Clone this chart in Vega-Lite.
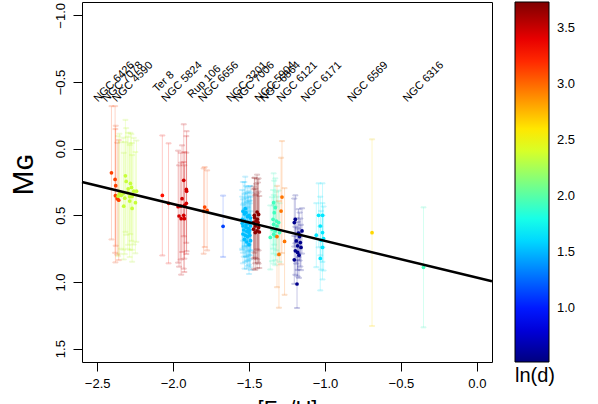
{
  "$schema": "https://vega.github.io/schema/vega-lite/v6.json",
  "width": 410,
  "height": 360,
  "autosize": "none",
  "padding": {"left": 82, "top": 2, "right": 106, "bottom": 42},
  "background": "white",
  "config": {
    "view": {"stroke": "black", "strokeWidth": 1},
    "font": "Liberation Sans",
    "axis": {"labelFont": "Liberation Sans", "titleFont": "Liberation Sans", "labelColor": "black", "titleColor": "black", "tickColor": "black", "grid": false, "domain": false, "titleFontWeight": "normal"},
    "legend": {"gradientLength": 360, "gradientThickness": 34}
  },
  "datasets": {
    "stars": [
      {"f": -2.406, "m": 0.181, "e": 0.50, "l": 3.12},
      {"f": -2.382, "m": 0.231, "e": 0.55, "l": 3.12},
      {"f": -2.378, "m": 0.278, "e": 0.45, "l": 3.12},
      {"f": -2.380, "m": 0.353, "e": 0.50, "l": 3.12},
      {"f": -2.368, "m": 0.375, "e": 0.42, "l": 3.12},
      {"f": -2.358, "m": 0.386, "e": 0.45, "l": 3.12},
      {"f": -2.314, "m": 0.204, "e": 0.42, "l": 2.35},
      {"f": -2.309, "m": 0.246, "e": 0.40, "l": 2.35},
      {"f": -2.281, "m": 0.261, "e": 0.38, "l": 2.35},
      {"f": -2.274, "m": 0.291, "e": 0.40, "l": 2.35},
      {"f": -2.296, "m": 0.301, "e": 0.42, "l": 2.35},
      {"f": -2.353, "m": 0.338, "e": 0.45, "l": 2.35},
      {"f": -2.342, "m": 0.351, "e": 0.40, "l": 2.35},
      {"f": -2.329, "m": 0.338, "e": 0.42, "l": 2.35},
      {"f": -2.259, "m": 0.319, "e": 0.40, "l": 2.35},
      {"f": -2.241, "m": 0.319, "e": 0.38, "l": 2.35},
      {"f": -2.318, "m": 0.371, "e": 0.42, "l": 2.35},
      {"f": -2.286, "m": 0.360, "e": 0.40, "l": 2.35},
      {"f": -2.270, "m": 0.358, "e": 0.40, "l": 2.35},
      {"f": -2.248, "m": 0.405, "e": 0.38, "l": 2.35},
      {"f": -2.286, "m": 0.393, "e": 0.42, "l": 2.35},
      {"f": -2.325, "m": 0.431, "e": 0.40, "l": 2.35},
      {"f": -2.270, "m": 0.448, "e": 0.40, "l": 2.35},
      {"f": -2.299, "m": 0.331, "e": 0.42, "l": 2.35},
      {"f": -2.362, "m": 0.356, "e": 0.45, "l": 2.35},
      {"f": -2.071, "m": 0.351, "e": 0.45, "l": 3.28},
      {"f": -2.030, "m": 0.410, "e": 0.45, "l": 3.28},
      {"f": -1.930, "m": 0.237, "e": 0.42, "l": 3.47},
      {"f": -1.913, "m": 0.306, "e": 0.40, "l": 3.47},
      {"f": -1.911, "m": 0.319, "e": 0.45, "l": 3.47},
      {"f": -1.941, "m": 0.375, "e": 0.40, "l": 3.47},
      {"f": -1.913, "m": 0.410, "e": 0.38, "l": 3.47},
      {"f": -1.926, "m": 0.425, "e": 0.40, "l": 3.47},
      {"f": -1.967, "m": 0.435, "e": 0.42, "l": 3.47},
      {"f": -1.950, "m": 0.431, "e": 0.40, "l": 3.47},
      {"f": -1.961, "m": 0.505, "e": 0.38, "l": 3.47},
      {"f": -1.930, "m": 0.500, "e": 0.40, "l": 3.47},
      {"f": -1.947, "m": 0.525, "e": 0.42, "l": 3.47},
      {"f": -1.926, "m": 0.525, "e": 0.40, "l": 3.47},
      {"f": -1.792, "m": 0.438, "e": 0.30, "l": 3.10},
      {"f": -1.776, "m": 0.463, "e": 0.30, "l": 3.10},
      {"f": -1.799, "m": 0.468, "e": 0.32, "l": 3.10},
      {"f": -1.671, "m": 0.582, "e": 0.23, "l": 1.13},
      {"f": -1.540, "m": 0.47, "e": 0.22, "l": 1.52},
      {"f": -1.530, "m": 0.49, "e": 0.24, "l": 1.52},
      {"f": -1.520, "m": 0.48, "e": 0.20, "l": 1.52},
      {"f": -1.500, "m": 0.50, "e": 0.22, "l": 1.52},
      {"f": -1.490, "m": 0.52, "e": 0.24, "l": 1.52},
      {"f": -1.545, "m": 0.53, "e": 0.22, "l": 1.52},
      {"f": -1.530, "m": 0.54, "e": 0.20, "l": 1.52},
      {"f": -1.510, "m": 0.55, "e": 0.22, "l": 1.52},
      {"f": -1.500, "m": 0.56, "e": 0.24, "l": 1.52},
      {"f": -1.485, "m": 0.55, "e": 0.22, "l": 1.52},
      {"f": -1.540, "m": 0.58, "e": 0.20, "l": 1.52},
      {"f": -1.520, "m": 0.59, "e": 0.22, "l": 1.52},
      {"f": -1.505, "m": 0.60, "e": 0.24, "l": 1.52},
      {"f": -1.490, "m": 0.58, "e": 0.22, "l": 1.52},
      {"f": -1.535, "m": 0.61, "e": 0.20, "l": 1.52},
      {"f": -1.515, "m": 0.62, "e": 0.22, "l": 1.52},
      {"f": -1.500, "m": 0.63, "e": 0.24, "l": 1.52},
      {"f": -1.540, "m": 0.64, "e": 0.22, "l": 1.52},
      {"f": -1.525, "m": 0.65, "e": 0.20, "l": 1.52},
      {"f": -1.510, "m": 0.66, "e": 0.22, "l": 1.52},
      {"f": -1.495, "m": 0.65, "e": 0.24, "l": 1.52},
      {"f": -1.530, "m": 0.68, "e": 0.22, "l": 1.52},
      {"f": -1.515, "m": 0.70, "e": 0.20, "l": 1.52},
      {"f": -1.500, "m": 0.72, "e": 0.22, "l": 1.52},
      {"f": -1.520, "m": 0.57, "e": 0.24, "l": 1.52},
      {"f": -1.495, "m": 0.61, "e": 0.22, "l": 1.52},
      {"f": -1.545, "m": 0.56, "e": 0.20, "l": 1.52},
      {"f": -1.510, "m": 0.51, "e": 0.22, "l": 1.52},
      {"f": -1.525, "m": 0.45, "e": 0.24, "l": 1.52},
      {"f": -1.490, "m": 0.69, "e": 0.22, "l": 1.52},
      {"f": -1.447, "m": 0.475, "e": 0.28, "l": 3.70},
      {"f": -1.437, "m": 0.493, "e": 0.27, "l": 3.70},
      {"f": -1.463, "m": 0.517, "e": 0.30, "l": 3.70},
      {"f": -1.454, "m": 0.543, "e": 0.28, "l": 3.70},
      {"f": -1.470, "m": 0.554, "e": 0.27, "l": 3.70},
      {"f": -1.441, "m": 0.554, "e": 0.30, "l": 3.70},
      {"f": -1.459, "m": 0.580, "e": 0.28, "l": 3.70},
      {"f": -1.437, "m": 0.592, "e": 0.27, "l": 3.70},
      {"f": -1.447, "m": 0.617, "e": 0.28, "l": 3.70},
      {"f": -1.470, "m": 0.604, "e": 0.30, "l": 3.70},
      {"f": -1.432, "m": 0.625, "e": 0.27, "l": 3.70},
      {"f": -1.459, "m": 0.629, "e": 0.28, "l": 3.70},
      {"f": -1.465, "m": 0.500, "e": 0.28, "l": 3.70},
      {"f": -1.445, "m": 0.530, "e": 0.30, "l": 3.70},
      {"f": -1.338, "m": 0.405, "e": 0.22, "l": 1.93},
      {"f": -1.327, "m": 0.443, "e": 0.22, "l": 1.93},
      {"f": -1.334, "m": 0.480, "e": 0.24, "l": 1.93},
      {"f": -1.342, "m": 0.530, "e": 0.22, "l": 1.93},
      {"f": -1.320, "m": 0.543, "e": 0.22, "l": 1.93},
      {"f": -1.305, "m": 0.554, "e": 0.24, "l": 1.93},
      {"f": -1.338, "m": 0.567, "e": 0.22, "l": 1.93},
      {"f": -1.316, "m": 0.580, "e": 0.22, "l": 1.93},
      {"f": -1.349, "m": 0.604, "e": 0.24, "l": 1.93},
      {"f": -1.327, "m": 0.617, "e": 0.22, "l": 1.93},
      {"f": -1.338, "m": 0.642, "e": 0.22, "l": 1.93},
      {"f": -1.360, "m": 0.666, "e": 0.24, "l": 1.93},
      {"f": -1.327, "m": 0.654, "e": 0.22, "l": 1.93},
      {"f": -1.299, "m": 0.629, "e": 0.22, "l": 1.93},
      {"f": -1.283, "m": 0.363, "e": 0.42, "l": 2.96},
      {"f": -1.289, "m": 0.468, "e": 0.40, "l": 2.96},
      {"f": -1.316, "m": 0.659, "e": 0.38, "l": 2.96},
      {"f": -1.266, "m": 0.696, "e": 0.40, "l": 2.96},
      {"f": -1.303, "m": 0.793, "e": 0.40, "l": 2.96},
      {"f": -1.195, "m": 0.530, "e": 0.18, "l": 0.56},
      {"f": -1.202, "m": 0.554, "e": 0.18, "l": 0.56},
      {"f": -1.151, "m": 0.617, "e": 0.17, "l": 0.56},
      {"f": -1.174, "m": 0.634, "e": 0.18, "l": 0.56},
      {"f": -1.167, "m": 0.659, "e": 0.18, "l": 0.56},
      {"f": -1.189, "m": 0.692, "e": 0.17, "l": 0.56},
      {"f": -1.162, "m": 0.704, "e": 0.18, "l": 0.56},
      {"f": -1.180, "m": 0.729, "e": 0.18, "l": 0.56},
      {"f": -1.158, "m": 0.741, "e": 0.17, "l": 0.56},
      {"f": -1.195, "m": 0.766, "e": 0.18, "l": 0.56},
      {"f": -1.180, "m": 0.778, "e": 0.18, "l": 0.56},
      {"f": -1.171, "m": 0.799, "e": 0.17, "l": 0.56},
      {"f": -1.202, "m": 0.834, "e": 0.18, "l": 0.56},
      {"f": -1.184, "m": 1.015, "e": 0.18, "l": 0.56},
      {"f": -1.042, "m": 0.500, "e": 0.24, "l": 1.65},
      {"f": -1.016, "m": 0.500, "e": 0.24, "l": 1.65},
      {"f": -1.031, "m": 0.580, "e": 0.22, "l": 1.65},
      {"f": -1.057, "m": 0.649, "e": 0.24, "l": 1.65},
      {"f": -1.016, "m": 0.629, "e": 0.22, "l": 1.65},
      {"f": -1.009, "m": 0.674, "e": 0.24, "l": 1.65},
      {"f": -1.026, "m": 0.687, "e": 0.22, "l": 1.65},
      {"f": -1.016, "m": 0.741, "e": 0.24, "l": 1.65},
      {"f": -1.031, "m": 0.823, "e": 0.24, "l": 1.65},
      {"f": -0.690, "m": 0.630, "e": 0.70, "l": 2.65},
      {"f": -0.351, "m": 0.890, "e": 0.45, "l": 1.93}
    ],
    "fit": [
      {"f": -2.6, "m": 0.25},
      {"f": 0.1, "m": 0.995}
    ],
    "clusterlabels": [
      {"f": -2.388, "m": -0.5, "n": "NGC 6426"},
      {"f": -2.331, "m": -0.5, "n": "NGC 7078"},
      {"f": -2.265, "m": -0.5, "n": "NGC 4590"},
      {"f": -2.062, "m": -0.5, "n": "Ter 8"},
      {"f": -1.941, "m": -0.5, "n": "NGC 5824"},
      {"f": -1.794, "m": -0.5, "n": "Rup 106"},
      {"f": -1.700, "m": -0.5, "n": "NGC 6656"},
      {"f": -1.513, "m": -0.5, "n": "NGC 3201"},
      {"f": -1.465, "m": -0.5, "n": "NGC 7006"},
      {"f": -1.327, "m": -0.5, "n": "NGC 5904"},
      {"f": -1.294, "m": -0.5, "n": "NGC 6864"},
      {"f": -1.182, "m": -0.5, "n": "NGC 6121"},
      {"f": -1.022, "m": -0.5, "n": "NGC 6171"},
      {"f": -0.717, "m": -0.5, "n": "NGC 6569"},
      {"f": -0.351, "m": -0.5, "n": "NGC 6316"}
    ]
  },
  "encoding": {
    "x": {
      "field": "f", "type": "quantitative",
      "scale": {"domain": [-2.6, 0.1], "nice": false, "zero": false},
      "axis": {"title": "[Fe/H]", "titleFontSize": 22, "titleBaseline": "top", "titleY": 36, "values": [-2.5, -2, -1.5, -1, -0.5, 0], "format": ".1f", "labelFontSize": 13, "tickSize": 9, "labelPadding": 6}
    },
    "y": {
      "field": "m", "type": "quantitative",
      "scale": {"domain": [-1.1, 1.6], "nice": false, "zero": false, "reverse": true},
      "axis": {"title": "Mɢ", "titleFontSize": 30, "titleAngle": 270, "titleX": -50, "titleY": 172, "titleBaseline": "alphabetic", "titleAlign": "center", "values": [-1, -0.5, 0, 0.5, 1, 1.5], "format": ".1f", "labelAngle": 270, "labelAlign": "center", "labelBaseline": "bottom", "labelFontSize": 13, "tickSize": 9, "labelPadding": 6}
    }
  },
  "layer": [
    {
      "data": {"name": "stars"},
      "mark": {"type": "errorbar", "ticks": {"size": 5, "opacity": 0.22}, "rule": {"opacity": 0.22, "strokeWidth": 1}},
      "encoding": {
        "yError": {"field": "e"},
        "stroke": {"field": "l", "type": "quantitative", "legend": null,
          "scale": {"domain": [0.521, 3.731], "interpolate": "rgb", "range": ["#00007F", "#0000FF", "#007FFF", "#00FFFF", "#7FFF7F", "#FFFF00", "#FF7F00", "#FF0000", "#7F0000"]}}
      }
    },
    {
      "data": {"name": "stars"},
      "mark": {"type": "circle", "size": 14, "opacity": 1, "strokeWidth": 0},
      "encoding": {
        "fill": {"field": "l", "type": "quantitative",
          "scale": {"domain": [0.52, 3.73], "interpolate": "rgb", "range": ["#00007F", "#0000FF", "#007FFF", "#00FFFF", "#7FFF7F", "#FFFF00", "#FF7F00", "#FF0000", "#7F0000"]},
          "legend": {"type": "gradient", "orient": "right", "offset": 23, "direction": "vertical", "title": "ln(d)", "titleOrient": "bottom", "titleAnchor": "start", "titleFontSize": 20, "titleFont": "Liberation Sans", "titleFontWeight": "normal", "titleColor": "black", "titlePadding": 3, "gradientStrokeColor": "black", "gradientStrokeWidth": 1, "labelFontSize": 13, "labelFont": "Liberation Sans", "labelColor": "black", "labelOffset": 8, "values": [1, 1.5, 2, 2.5, 3, 3.5], "format": ".1f"}}
      }
    },
    {
      "data": {"name": "fit"},
      "mark": {"type": "line", "strokeWidth": 2.5, "color": "black"}
    },
    {
      "data": {"name": "clusterlabels"},
      "mark": {"type": "text", "angle": 315, "align": "center", "baseline": "middle", "fontSize": 11, "font": "Liberation Sans", "color": "black"},
      "encoding": {"text": {"field": "n", "type": "nominal"}}
    }
  ]
}
